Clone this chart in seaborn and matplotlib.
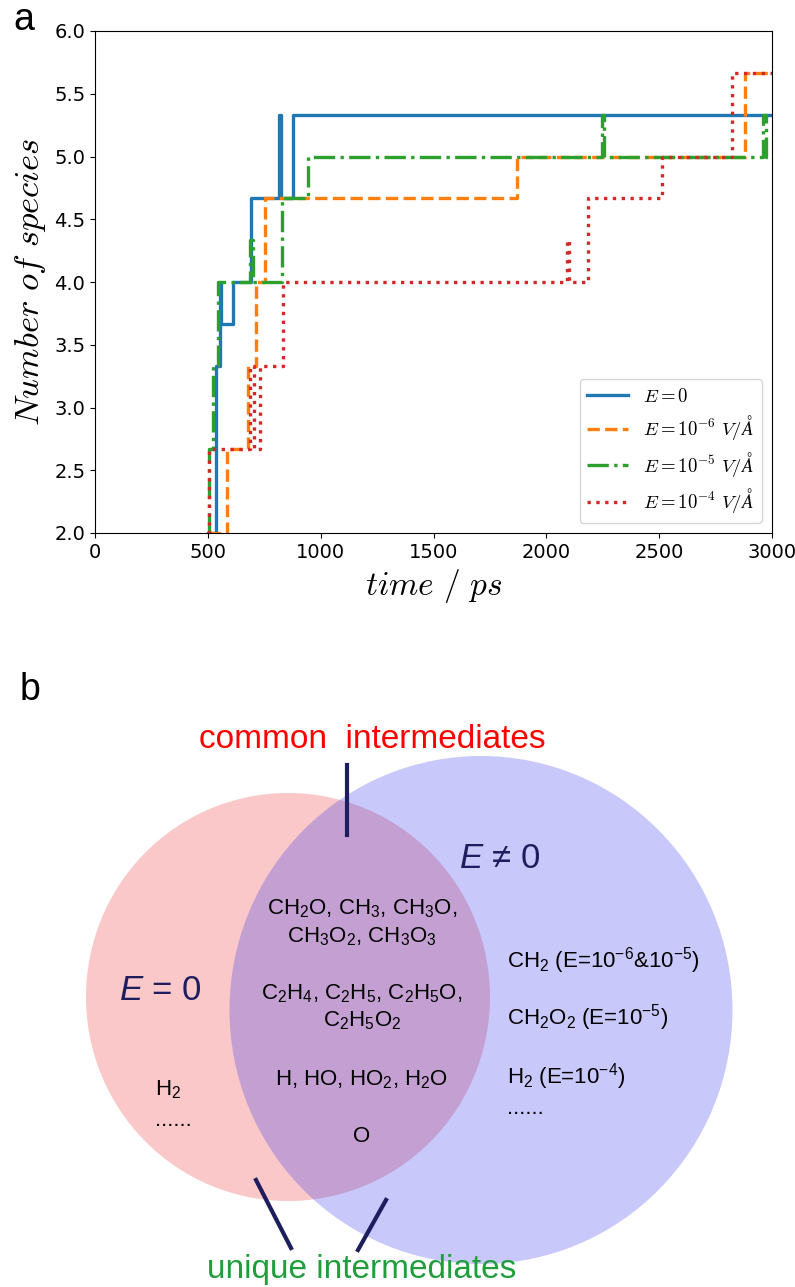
import numpy as np
import pandas as pd
import matplotlib
matplotlib.use("Agg")
import matplotlib.pyplot as plt
from matplotlib.patches import Ellipse
import seaborn as sns

# ---------------- data (panel a) ----------------
series_labels = [r"$E=0$", r"$E=10^{-6}\ V/\AA$", r"$E=10^{-5}\ V/\AA$", r"$E=10^{-4}\ V/\AA$"]
series_colors = ["#1f77b4", "#ff7f0e", "#2ca02c", "#d62728"]

time_E0 = [500, 535, 554, 560, 613, 691, 815, 824, 877, 3000]
num_E0 = [2.0, 3.333, 4.0, 3.667, 4.0, 4.667, 5.333, 4.667, 5.333, 5.333]

time_E6 = [500, 584, 679, 715, 753, 1868, 2882, 3000]
num_E6 = [2.0, 2.667, 3.333, 4.0, 4.667, 5.0, 5.667, 5.667]

time_E5 = [500, 505, 524, 545, 687, 700, 827, 945, 2245, 2255, 2958, 2973, 3000]
num_E5 = [2.0, 2.667, 3.333, 4.0, 4.333, 4.0, 4.667, 5.0, 5.333, 5.0, 5.333, 5.0, 5.0]

time_E4 = [500, 505, 687, 704, 731, 834, 2090, 2100, 2186, 2511, 2821, 3000]
num_E4 = [2.0, 2.667, 3.333, 2.667, 3.333, 4.0, 4.333, 4.0, 4.667, 5.0, 5.667, 5.667]

xticks = [0, 500, 1000, 1500, 2000, 2500, 3000]
yticks = [2.0, 2.5, 3.0, 3.5, 4.0, 4.5, 5.0, 5.5, 6.0]

# ---------------- data (panel b) ----------------
common_title = "common  intermediates"
unique_title = "unique intermediates"
left_set_label = r"$\mathit{E}$ = 0"
right_set_label = r"$\mathit{E}$ ≠ 0"
common_items = [r"CH$_2$O, CH$_3$, CH$_3$O,", r"CH$_3$O$_2$, CH$_3$O$_3$",
                r"C$_2$H$_4$, C$_2$H$_5$, C$_2$H$_5$O,", r"C$_2$H$_5$O$_2$",
                r"H, HO, HO$_2$, H$_2$O", "O"]
left_items = [r"H$_2$", "......"]
right_items = [r"CH$_2$ (E=10$^{-6}$&10$^{-5}$)", r"CH$_2$O$_2$ (E=10$^{-5}$)",
               r"H$_2$ (E=10$^{-4}$)", "......"]

# ---------------- styling ----------------
plt.rcParams["font.family"] = ["DejaVu Sans"]
plt.rcParams["mathtext.fontset"] = "cm"
plt.rcParams["mathtext.rm"] = "Liberation Sans"
plt.rcParams["mathtext.it"] = "Liberation Sans:italic"
plt.rcParams["mathtext.bf"] = "Liberation Sans:bold"

W, H = 795, 1287
fig = plt.figure(figsize=(W / 100, H / 100), dpi=100)

# panel a
ax = fig.add_axes([95 / W, 1 - 533 / H, (772 - 95) / W, (533 - 31) / H])
frames = []
for lab, t, v in zip(series_labels, [time_E0, time_E6, time_E5, time_E4],
                     [num_E0, num_E6, num_E5, num_E4]):
    frames.append(pd.DataFrame({"time": t, "num": v, "label": lab}))
df = pd.concat(frames, ignore_index=True)

dash_map = {series_labels[0]: "", series_labels[1]: (3.7, 1.6),
            series_labels[2]: (6.4, 1.6, 1.0, 1.6), series_labels[3]: (1.0, 1.65)}
sns.lineplot(data=df, x="time", y="num", hue="label", style="label",
             hue_order=series_labels, style_order=series_labels,
             palette=dict(zip(series_labels, series_colors)), dashes=dash_map,
             estimator=None, sort=False, drawstyle="steps-post", linewidth=2.4,
             legend=False, ax=ax)

ax.set_xlim(0, 3000)
ax.set_ylim(2.0, 6.0)
ax.set_xticks(xticks)
ax.set_yticks(yticks)
ax.set_xticklabels([str(x) for x in xticks])
ax.set_yticklabels([f"{y:.1f}" for y in yticks])
ax.tick_params(labelsize=14)
ax.set_xlabel(r"$time\ /\ ps$", fontsize=24, labelpad=4)
ax.set_ylabel(r"$Number\ of\ species$", fontsize=25, labelpad=4)
leg = ax.legend(ax.lines[:4], series_labels, loc="lower right", fontsize=13.5,
                handlelength=2.2, framealpha=0.8, borderaxespad=0.55,
                labelspacing=0.4)

fig.text(24 / W, 1 - 20 / H, "a", fontsize=27, family="Liberation Sans",
         ha="center", va="center")

# panel b (Venn diagram) in pixel-like coordinates
axb = fig.add_axes([0, 0, 1, (H - 640) / H])
axb.set_xlim(0, W)
axb.set_ylim(H, 640)
axb.axis("off")

axb.add_patch(Ellipse((288, 997), 404, 408, facecolor=(250 / 255, 200 / 255, 200 / 255),
                      edgecolor="none", zorder=1))
axb.add_patch(Ellipse((481, 1010), 503, 508, facecolor=(53 / 255, 53 / 255, 237 / 255),
                      alpha=0.27, edgecolor="none", zorder=2))

navy = "#1e1e5e"
green = "#1f9e3c"
vfont = dict(family=["Liberation Sans", "DejaVu Sans"], math_fontfamily="custom")

axb.text(30, 690, "b", fontsize=27, ha="center", va="center", **vfont)
axb.text(372, 739, common_title, color="#ff0000", fontsize=24, ha="center", va="center", **vfont)
axb.plot([347, 347], [765, 835], color=navy, lw=3, zorder=5)
axb.text(500, 859, right_set_label, color=navy, fontsize=25, ha="center", va="center", **vfont)
axb.text(160, 990, left_set_label, color=navy, fontsize=25, ha="center", va="center", **vfont)

common_y = [909, 937, 994, 1021, 1080, 1137]
for txt, y in zip(common_items, common_y):
    axb.text(362, y, txt, fontsize=16, ha="center", va="center", **vfont)

right_y = [961, 1018, 1077, 1108]
for txt, y in zip(right_items, right_y):
    axb.text(507, y, txt, fontsize=16, ha="left", va="center", **vfont)

left_y = [1090, 1121]
for txt, y in zip(left_items, left_y):
    axb.text(155, y, txt, fontsize=16, ha="left", va="center", **vfont)

axb.plot([256, 291], [1180, 1248], color=navy, lw=3, zorder=5)
axb.plot([386, 358], [1200, 1250], color=navy, lw=3, zorder=5)
axb.text(362, 1278, unique_title, color=green, fontsize=24, ha="center", va="baseline", **vfont)

fig.savefig("out.png", dpi=100)
